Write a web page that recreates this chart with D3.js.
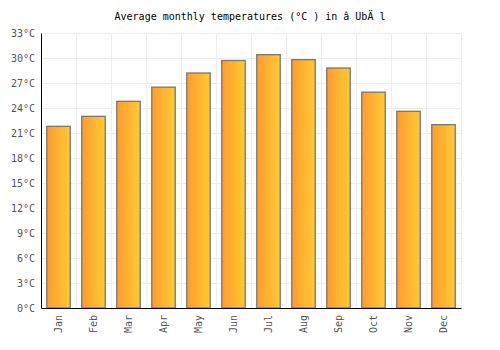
<!DOCTYPE html>
<html>
<head>
<meta charset="utf-8">
<script src="https://cdn.jsdelivr.net/npm/d3@7"></script>
<style>
body { margin: 0; background: #fff; }
text { font-family: "DejaVu Sans Mono", monospace; }
</style>
</head>
<body>
<svg class="chart"></svg>
<script>
const months = ['Jan', 'Feb', 'Mar', 'Apr', 'May', 'Jun', 'Jul', 'Aug', 'Sep', 'Oct', 'Nov', 'Dec'];
const temps = [21.8, 23.0, 24.8, 26.5, 28.2, 29.7, 30.4, 29.8, 28.8, 25.9, 23.6, 22.0];
const yTicks = [0, 3, 6, 9, 12, 15, 18, 21, 24, 27, 30, 33];
const title = 'Average monthly temperatures (°C ) in â  UbÄ l';

const svg = d3.select('.chart')
	.attr('width', 500)
	.attr('height', 350);

let width = +svg.attr('width'),
	height = +svg.attr('height'),
	margin = { top: 33, right: 39, bottom: 42, left: 41 },
	innerWidth = width - margin.left - margin.right,
	innerHeight = height - margin.top - margin.bottom;

const data = months.map((m, i) => ({ month: m, temp: temps[i] }));

const xScale = d3.scaleBand()
	.domain(months)
	.range([0, innerWidth])
	.paddingInner(0.33)
	.paddingOuter(0.165);

const xGrid = d3.scaleBand()
	.domain(months)
	.range([0, innerWidth]);

const yScale = d3.scaleLinear()
	.domain([0, 33])
	.range([innerHeight, 0]);

const defs = svg.append('defs');
const grad = defs.append('linearGradient')
	.attr('id', 'barGrad')
	.attr('x1', '0%').attr('x2', '100%')
	.attr('y1', '0%').attr('y2', '0%');
grad.append('stop').attr('offset', '0%').attr('stop-color', '#ff9b2f');
grad.append('stop').attr('offset', '100%').attr('stop-color', '#ffcb33');

svg.append('text')
	.attr('x', width / 2)
	.attr('y', 20)
	.attr('text-anchor', 'middle')
	.attr('font-size', 10)
	.attr('fill', '#000')
	.text(title);

const g = svg.append('g')
	.attr('transform', `translate(${margin.left}, ${margin.top})`);

// grid
g.selectAll('.hgrid')
	.data(yTicks)
	.enter().append('line')
	.attr('x1', 0).attr('x2', innerWidth)
	.attr('y1', d => yScale(d) + 0.5).attr('y2', d => yScale(d) + 0.5)
	.attr('stroke', '#eeeeee');

g.selectAll('.vgrid')
	.data(months.slice(1).concat(['end']))
	.enter().append('line')
	.attr('x1', d => (d === 'end' ? innerWidth : xGrid(d)) + 0.5)
	.attr('x2', d => (d === 'end' ? innerWidth : xGrid(d)) + 0.5)
	.attr('y1', 0).attr('y2', innerHeight)
	.attr('stroke', '#eeeeee');

g.selectAll('rect')
	.data(data)
	.enter().append('rect')
	.attr('x', d => xScale(d.month))
	.attr('y', d => yScale(d.temp))
	.attr('width', xScale.bandwidth())
	.attr('height', d => innerHeight - yScale(d.temp))
	.attr('fill', 'url(#barGrad)')
	.attr('stroke', '#777777')
	.attr('stroke-width', 1.3);

const yAxis = d3.axisLeft(yScale)
	.tickValues(yTicks)
	.tickSize(0)
	.tickPadding(6)
	.tickFormat(d => d + '°C');
const yAxisG = g.append('g').call(yAxis);
yAxisG.select('.domain').attr('stroke', '#000');
yAxisG.selectAll('text')
	.attr('font-size', 10)
	.attr('fill', '#555')
	.attr('font-family', '"DejaVu Sans Mono", monospace');

const xAxis = d3.axisBottom(xScale)
	.tickSize(0)
	.tickSizeOuter(0);
const xAxisG = g.append('g').call(xAxis)
	.attr('transform', `translate(0, ${innerHeight})`);
xAxisG.select('.domain').attr('stroke', '#000');
xAxisG.selectAll('text')
	.attr('font-size', 10)
	.attr('fill', '#555')
	.attr('font-family', '"DejaVu Sans Mono", monospace')
	.attr('transform', 'rotate(-90)')
	.attr('text-anchor', 'end')
	.attr('x', -7)
	.attr('y', 0)
	.attr('dy', '0.35em');
</script>
</body>
</html>
